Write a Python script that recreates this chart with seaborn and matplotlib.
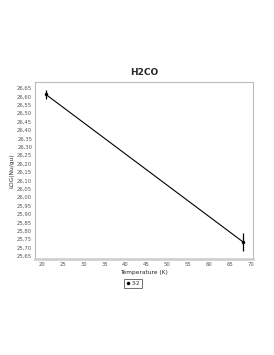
import seaborn as sns
import matplotlib.pyplot as plt
import matplotlib.ticker as mticker
import pandas as pd

temperature = [20.9, 68.2]
log_nu_gu = [26.612, 25.732]
err = [0.025, 0.055]
series = ["3-2", "3-2"]

sns.set_theme(style="white")
plt.rcParams['font.family'] = ['DejaVu Sans']

df = pd.DataFrame({"T": temperature, "y": log_nu_gu, "err": err, "line": series})

fig = plt.figure(figsize=(2.74, 3.55), dpi=100)
ax = fig.add_axes([35 / 274, 1 - 259 / 355, 218 / 274, 177 / 355])

sns.lineplot(data=df, x="T", y="y", hue="line", palette=["black"], marker="o",
             markersize=2.5, linewidth=0.8, ax=ax, markeredgewidth=0)
ax.errorbar(df["T"], df["y"], yerr=df["err"], fmt="none", ecolor="black", elinewidth=0.9)

ax.set_xlim(18.3, 70.5)
ax.set_ylim(25.632, 26.686)
ax.xaxis.set_major_locator(mticker.MultipleLocator(5))
ax.yaxis.set_major_locator(mticker.MultipleLocator(0.05))
ax.yaxis.set_major_formatter(mticker.FuncFormatter(lambda v, p: f"{v:.2f}".replace(".", ",")))
ax.tick_params(labelsize=3.8, length=0, pad=2, colors="#555555")

for s in ax.spines.values():
    s.set_color("#bbbbbb")
    s.set_linewidth(0.8)
ax.spines["bottom"].set_linewidth(2)
ax.spines["bottom"].set_color("#d0d0d0")

ax.set_title("H2CO", fontsize=6.5, fontweight="bold", pad=5)
ax.set_xlabel("Temperature (K)", fontsize=4.2, labelpad=2)
ax.set_ylabel("LOG(Nu/gu)", fontsize=4.2, labelpad=2)

ax.legend(loc="upper center", bbox_to_anchor=(0.45, -0.1), fontsize=3.8, frameon=True,
          fancybox=False, edgecolor="#333333", handlelength=0.6, handletextpad=0.5,
          borderpad=0.3, markerscale=1.0).get_frame().set_linewidth(0.6)
for h in ax.get_legend().get_lines():
    h.set_linestyle("none")

plt.savefig("out.png", dpi=100)
plt.close()
